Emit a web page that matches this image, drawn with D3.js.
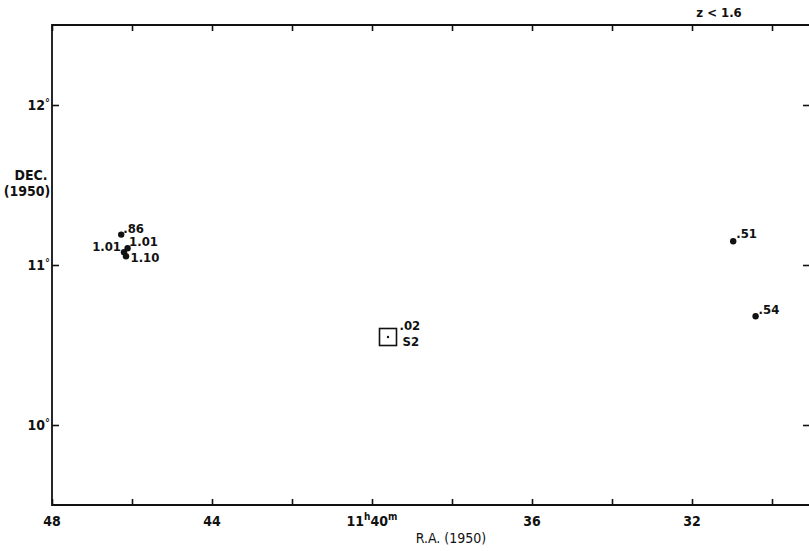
<!DOCTYPE html>
<html>
<head>
<meta charset="utf-8">
<script src="https://cdn.jsdelivr.net/npm/d3@7"></script>
<style>
  html, body { margin: 0; padding: 0; background: #fff; }
  svg { display: block; }
  text { font-family: "Liberation Sans Narrow", "DejaVu Sans Condensed", "Liberation Sans", sans-serif; fill: #111; font-weight: bold; }
  text.light { font-weight: normal; }
</style>
</head>
<body>
<svg id="chart" width="809" height="551"></svg>
<script>
// ---- data ----
// Right ascension in minutes past 11h (1950), declination in degrees (1950)
const quasarRA   = [46.27, 46.11, 46.20, 46.15, 30.97, 30.41];
const quasarDec  = [11.19, 11.105, 11.08, 11.055, 11.148, 10.68];
const quasarZ    = [".86", "1.01", "1.01", "1.10", ".51", ".54"];
const sourceRA   = [39.60];
const sourceDec  = [10.55];
const sourceZ    = [".02"];
const sourceName = ["S2"];
const xTicks      = [48, 46, 44, 42, 40, 38, 36, 34, 32, 30];
const xTickLabels = ["48", "", "44", "", "40", "", "36", "", "32", ""];
const yTicks      = [10, 11, 12];
const yTickLabels = ["10", "11", "12"];
const title = "z < 1.6";

// ---- layout ----
const svg = d3.select("#chart");
const L = 52, R = 810, T = 25, B = 505;
const x = d3.scaleLinear().domain([48, 29.05]).range([L, R]);
const y = d3.scaleLinear().domain([9.5, 12.5]).range([B, T]);
const ink = "#111";

// frame
svg.append("path")
  .attr("d", `M${L},${B}V${T}H${R}V${B}Z`)
  .attr("fill", "none").attr("stroke", ink).attr("stroke-width", 1.8);

// axes (ticks inward)
const tickLen = 6;
const axB = svg.append("g").attr("transform", `translate(0,${B})`)
  .call(d3.axisBottom(x).tickValues(xTicks).tickSize(-tickLen).tickFormat(""));
const axT = svg.append("g").attr("transform", `translate(0,${T})`)
  .call(d3.axisTop(x).tickValues(xTicks).tickSize(-tickLen).tickFormat(""));
const axL = svg.append("g").attr("transform", `translate(${L},0)`)
  .call(d3.axisLeft(y).tickValues(yTicks).tickSize(-7).tickFormat(""));
const axR = svg.append("g").attr("transform", `translate(${R},0)`)
  .call(d3.axisRight(y).tickValues(yTicks).tickSize(-7).tickFormat(""));
[axB, axT, axL, axR].forEach(g => {
  g.select(".domain").remove();
  g.selectAll(".tick line").attr("stroke", ink).attr("stroke-width", 1.6);
});

// x tick labels
const xl = svg.append("g");
xTicks.forEach((t, i) => {
  const lab = xTickLabels[i];
  if (!lab) return;
  if (t === 40) {
    const tx = xl.append("text").attr("x", x(t)).attr("y", 526)
      .attr("text-anchor", "middle").attr("font-size", 14);
    tx.append("tspan").text("11");
    tx.append("tspan").attr("font-size", 10).attr("dy", -6).text("h");
    tx.append("tspan").attr("font-size", 14).attr("dy", 6).text(lab);
    tx.append("tspan").attr("font-size", 10).attr("dy", -6).text("m");
  } else {
    xl.append("text").attr("x", x(t)).attr("y", 526)
      .attr("text-anchor", "middle").attr("font-size", 14).text(lab);
  }
});

// y tick labels
yTicks.forEach((t, i) => {
  svg.append("text").attr("x", 45).attr("y", y(t) + 5)
    .attr("text-anchor", "end").attr("font-size", 14).text(yTickLabels[i]);
  svg.append("text").attr("x", 45).attr("y", y(t) + 1)
    .attr("font-size", 11).text("°");
});

// axis titles
svg.append("text").attr("x", 31).attr("y", 180).attr("text-anchor", "middle")
  .attr("font-size", 14).text("DEC.");
svg.append("text").attr("x", 27).attr("y", 196).attr("text-anchor", "middle")
  .attr("font-size", 14).text("(1950)");
svg.append("text").attr("class", "light").attr("x", 451).attr("y", 543)
  .attr("text-anchor", "middle").attr("font-size", 14).text("R.A. (1950)");
svg.append("text").attr("x", 719).attr("y", 17).attr("text-anchor", "middle")
  .attr("font-size", 13).text(title);

// quasars
const labelOffsets = [
  {dx: 2, dy: -2, anchor: "start"},
  {dx: 1.5, dy: -2, anchor: "start"},
  {dx: -3, dy: -1, anchor: "end"},
  {dx: 4.5, dy: 6, anchor: "start"},
  {dx: 3, dy: -3, anchor: "start"},
  {dx: 3, dy: -2, anchor: "start"}
];
const q = svg.append("g");
quasarRA.forEach((ra, i) => {
  const cx = x(ra), cy = y(quasarDec[i]);
  q.append("circle").attr("cx", cx).attr("cy", cy).attr("r", 3.2).attr("fill", ink);
  const o = labelOffsets[i];
  q.append("text").attr("x", cx + o.dx).attr("y", cy + o.dy)
    .attr("text-anchor", o.anchor).attr("font-size", 13).text(quasarZ[i]);
});

// radio source box
sourceRA.forEach((ra, i) => {
  const cx = x(ra), cy = y(sourceDec[i]);
  const s = 17;
  svg.append("rect").attr("x", cx - s / 2).attr("y", cy - s / 2)
    .attr("width", s).attr("height", s)
    .attr("fill", "none").attr("stroke", ink).attr("stroke-width", 1.6);
  svg.append("circle").attr("cx", cx).attr("cy", cy).attr("r", 1.2).attr("fill", ink);
  svg.append("text").attr("x", cx + s / 2 + 3).attr("y", cy - 7)
    .attr("font-size", 13).text(sourceZ[i]);
  svg.append("text").attr("x", cx + s / 2 + 6).attr("y", cy + 9)
    .attr("font-size", 13).text(sourceName[i]);
});
</script>
</body>
</html>
